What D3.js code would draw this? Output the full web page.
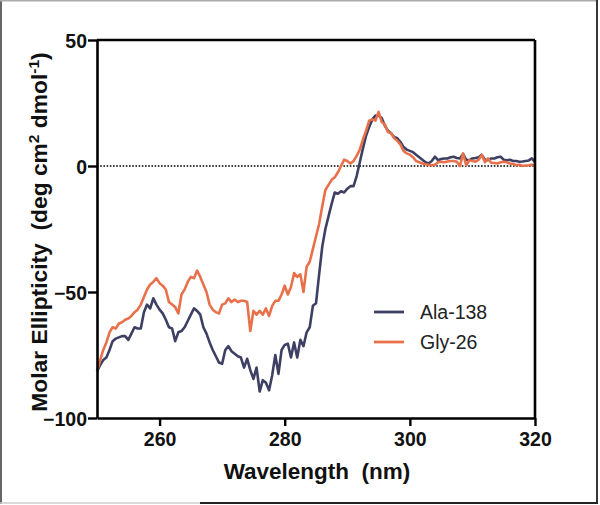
<!DOCTYPE html>
<html><head><meta charset="utf-8">
<script src="https://cdn.jsdelivr.net/npm/d3@7"></script>
<style>body{margin:0;background:#fff}svg{display:block}</style>
</head><body>
<script>
// ---- data ----
const wlStart = 250, wlStep = 0.5;
const ala138 = [-81.5,-79,-77,-76,-73,-69.5,-68.5,-68,-67.5,-67.5,-69,-66.5,-64,-64.5,-64.5,-58,-55,-56.5,-52.5,-55,
-57,-58.5,-61,-64,-64.5,-69.5,-66,-65.5,-64,-61.5,-59,-56.5,-57.5,-59,-64,-66.5,-70,-73,-75.5,-78,
-78.5,-73,-71.5,-73.5,-74.5,-75.5,-76,-80,-76.5,-81,-84.5,-80,-89.5,-85,-86,-89,-83,-75,-82.5,-73,
-71,-70.5,-76,-70,-76,-69,-71.5,-66,-64,-55.5,-54.5,-43,-32,-25,-20,-15,-10.5,-11,-10,-10.5,
-9,-8,-8,-4,1.5,7,12,15.5,18.5,20,20,19,16,14,13,11.5,11,9.5,7.5,6.5,
6,5.5,4.5,3.5,2.5,1.5,1,2,3.7,2.3,2.8,3,3,3.5,3.7,3.2,3,4.8,2.5,2.3,
3,3.2,3.5,4.4,2.5,2.3,3,3,3.5,3.7,2.5,2.3,2.5,2,2,1.7,1.8,2,2.2,3,1.5];
const gly26 = [-81.5,-77,-73,-70,-66,-64,-64.5,-62.5,-62,-61,-60.5,-59.5,-58,-57,-55,-52,-49,-47,-46,-44.5,
-46.5,-47.5,-49,-54,-55,-56,-58.5,-51,-49,-46,-44,-44.5,-41.5,-44,-47,-50,-55,-57,-58,-58.5,
-55,-54.5,-52.5,-54,-53,-54,-53.5,-53.5,-54,-65.5,-57.5,-59,-57.5,-59,-56.5,-59.5,-55.5,-53.5,-53.5,-51,
-47.5,-51,-48,-42.5,-44,-43,-50,-40,-38,-33,-28,-23,-16,-9.5,-7.5,-5.5,-4.5,-2.5,0,2.5,
2,1,2,4,6.5,10.5,14,18,18.5,18,21.5,17.5,16.5,13.5,13,11,10,8.5,6,5,
4.5,3.5,2,1.5,1,0.7,0.5,0.3,0.5,1.5,1.7,1.5,1.8,2,2,1.7,0,5,0.3,2.3,
2,1.7,2.5,4.4,1.5,3,1.3,1.2,1,1.5,1.7,1.5,1,0.8,0.3,0.5,0,0.2,0.3,0.5,0];
const seriesNames = ["Ala-138", "Gly-26"];
const seriesColors = ["#3e4063", "#e8714c"];
const xTicks = [260, 280, 300, 320];
const yTicks = [-100, -50, 0, 50];

// ---- layout ----
const W = 600, H = 505;
const svg = d3.select("body").append("svg").attr("width", W).attr("height", H);
const pL = 97, pR = 535, pT = 40, pB = 418;
const x = d3.scaleLinear().domain([250, 320]).range([pL, pR]);
const y = d3.scaleLinear().domain([-100, 50]).range([pB, pT]);

// outer picture frame
svg.append("line").attr("x1",1).attr("x2",1).attr("y1",0).attr("y2",504).attr("stroke","#333").attr("stroke-width",1.5);
svg.append("line").attr("x1",0).attr("x2",598).attr("y1",0.75).attr("y2",0.75).attr("stroke","#aaa").attr("stroke-width",1.5);
svg.append("line").attr("x1",597).attr("x2",597).attr("y1",0).attr("y2",504).attr("stroke","#222").attr("stroke-width",1.8);
svg.append("line").attr("x1",0).attr("x2",200).attr("y1",503).attr("y2",503).attr("stroke","#ccc").attr("stroke-width",1.5);
svg.append("line").attr("x1",200).attr("x2",598).attr("y1",503).attr("y2",503).attr("stroke","#222").attr("stroke-width",2);

// zero dotted line
svg.append("line").attr("x1", x(250)).attr("x2", x(320)).attr("y1", y(0)).attr("y2", y(0))
  .attr("stroke", "#000").attr("stroke-width", 1.6).attr("stroke-dasharray", "1.6,1.6");

// data lines
const line = d3.line().x((d,i)=>x(wlStart + i*wlStep)).y(d=>y(d));
[ala138, gly26].forEach((s, k) => {
  svg.append("path").datum(s).attr("d", line).attr("fill","none")
    .attr("stroke", seriesColors[k]).attr("stroke-width", 2.6).attr("stroke-linejoin","round");
});

// box
svg.append("line").attr("x1",pL).attr("x2",pR).attr("y1",pT).attr("y2",pT).attr("stroke","#000").attr("stroke-width",2.6);
svg.append("line").attr("x1",pR).attr("x2",pR).attr("y1",pT).attr("y2",pB).attr("stroke","#000").attr("stroke-width",2.6);

// axes
const fontF = "'Liberation Sans', Arial, sans-serif";
const xAxis = svg.append("g").attr("transform", `translate(0,${pB})`)
  .call(d3.axisBottom(x).tickValues(xTicks).tickSize(8).tickPadding(6).tickSizeOuter(0));
const yAxis = svg.append("g").attr("transform", `translate(${pL},0)`)
  .call(d3.axisLeft(y).tickValues(yTicks).tickSize(9).tickPadding(1).tickSizeOuter(0));
[xAxis, yAxis].forEach(g => {
  g.select(".domain").attr("stroke","#000").attr("stroke-width",2.6);
  g.selectAll(".tick line").attr("stroke","#000").attr("stroke-width",2.4);
  g.selectAll(".tick text").attr("fill","#111").attr("font-family",fontF)
    .attr("font-weight","bold").attr("font-size","19.5px");
});
yAxis.selectAll(".tick text").attr("dy","0.36em");

// axis titles
svg.append("text").attr("x", 317).attr("y", 479).attr("text-anchor","middle")
  .attr("font-family",fontF).attr("font-weight","bold").attr("font-size","22.5px").attr("fill","#111")
  .attr("xml:space","preserve").text("Wavelength  (nm)");
const yt = svg.append("text").attr("transform","translate(47,232) rotate(-90)").attr("text-anchor","middle")
  .attr("font-family",fontF).attr("font-weight","bold").attr("font-size","22.8px").attr("fill","#111")
  .attr("xml:space","preserve");
yt.append("tspan").text("Molar Ellipticity  (deg cm");
yt.append("tspan").attr("dy","-8").attr("font-size","15.5px").text("2");
yt.append("tspan").attr("dy","8").text(" dmol");
yt.append("tspan").attr("dy","-8").attr("font-size","15.5px").text("-1");
yt.append("tspan").attr("dy","8").text(")");

// legend
const legY = [312, 342];
seriesNames.forEach((n, k) => {
  svg.append("line").attr("x1",374).attr("x2",404).attr("y1",legY[k]).attr("y2",legY[k])
    .attr("stroke",seriesColors[k]).attr("stroke-width",2.8);
  svg.append("text").attr("x",420).attr("y",legY[k]).attr("dy","0.36em")
    .attr("font-family",fontF).attr("font-size","19.5px").attr("fill","#222").text(n);
});
</script>
</body></html>
